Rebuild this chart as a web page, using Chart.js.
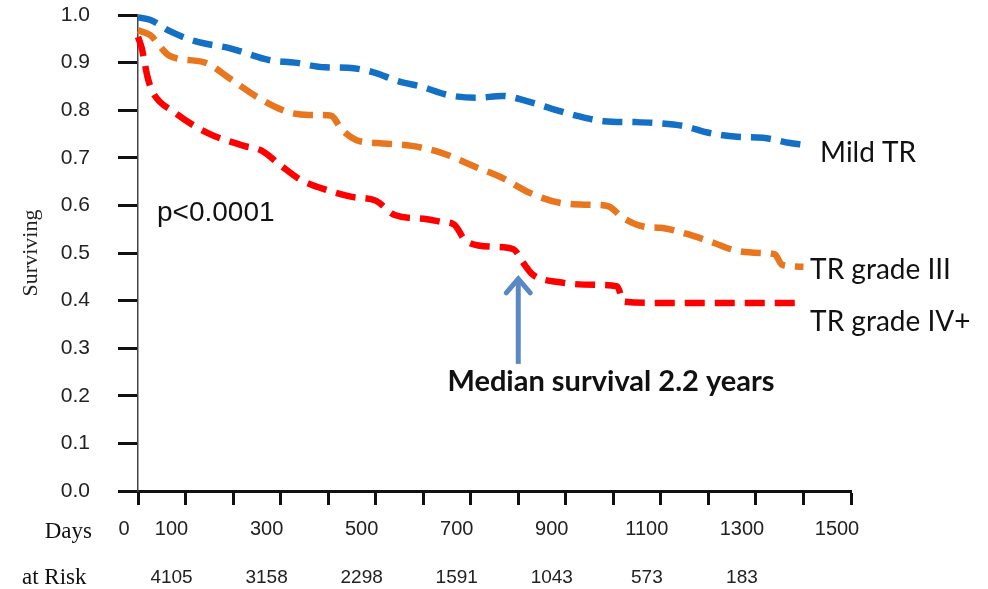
<!DOCTYPE html>
<html>
<head>
<meta charset="utf-8">
<script src="https://cdn.jsdelivr.net/npm/chart.js@4.4.0/dist/chart.umd.min.js"></script>
<style>
  html, body { margin: 0; padding: 0; background: #ffffff; }
  #wrap { width: 988px; height: 589px; }
</style>
</head>
<body>
<div id="wrap"><canvas id="c" width="988" height="589"></canvas></div>
<script>
// ---- Data ----
const mildDays = [0, 25, 67, 120, 194, 278, 330, 393, 442, 494, 547, 598, 652, 713, 766, 818, 871, 924, 980, 1046, 1092, 1147, 1203, 1260, 1315, 1372, 1395];
const mildSurv = [0.995, 0.99, 0.966, 0.945, 0.93, 0.905, 0.90, 0.89, 0.889, 0.88, 0.861, 0.849, 0.832, 0.826, 0.83, 0.819, 0.803, 0.788, 0.777, 0.775, 0.773, 0.767, 0.752, 0.744, 0.742, 0.731, 0.728];

const grade3Days = [0, 25, 67, 141, 194, 250, 316, 360, 405, 430, 460, 503, 576, 640, 705, 766, 825, 890, 961, 990, 1020, 1067, 1100, 1155, 1212, 1254, 1313, 1340, 1355, 1400];
const grade3Surv = [0.968, 0.958, 0.914, 0.90, 0.866, 0.828, 0.796, 0.79, 0.789, 0.758, 0.737, 0.731, 0.725, 0.71, 0.683, 0.658, 0.626, 0.605, 0.601, 0.598, 0.574, 0.555, 0.553, 0.54, 0.521, 0.506, 0.5, 0.497, 0.475, 0.471];

const grade4Days = [0, 8, 20, 30, 76, 147, 223, 260, 299, 340, 383, 450, 500, 540, 608, 640, 665, 690, 749, 790, 810, 830, 884, 968, 1008, 1022, 1100, 1400];
const grade4Surv = [0.954, 0.93, 0.87, 0.84, 0.796, 0.752, 0.725, 0.715, 0.685, 0.655, 0.637, 0.618, 0.61, 0.58, 0.571, 0.565, 0.56, 0.525, 0.513, 0.508, 0.48, 0.455, 0.439, 0.433, 0.43, 0.398, 0.395, 0.395];

const seriesNames = ['Mild TR', 'TR grade III', 'TR grade IV+'];
const xTickLabels = [0, 100, 300, 500, 700, 900, 1100, 1300, 1500];
const atRiskDays = [100, 300, 500, 700, 900, 1100, 1300];
const atRiskCounts = [4105, 3158, 2298, 1591, 1043, 573, 183];
const pValueText = 'p<0.0001';
const medianText = 'Median survival 2.2 years';
const medianDay = 800;

function pts(xs, ys) { return xs.map((x, i) => ({ x: x, y: ys[i] })); }

const colors = ['#1470c4', '#e8761f', '#ff0000'];

const annotate = {
  id: 'annotate',
  afterDraw(chart) {
    const ctx = chart.ctx;
    const xs = chart.scales.x, ys = chart.scales.y;
    ctx.save();
    ctx.fillStyle = '#111';
    ctx.font = '28px Lato, "Open Sans", sans-serif';
    ctx.textBaseline = 'middle';
    ctx.textAlign = 'left';
    ctx.fillText(seriesNames[0], xs.getPixelForValue(1435), ys.getPixelForValue(0.71));
    ctx.fillText(seriesNames[1], xs.getPixelForValue(1414), ys.getPixelForValue(0.464));
    ctx.fillText(seriesNames[2], xs.getPixelForValue(1414), ys.getPixelForValue(0.355));
    ctx.font = '28px "Liberation Sans", Arial, sans-serif';
    ctx.fillText(pValueText, xs.getPixelForValue(40), ys.getPixelForValue(0.584));
    const ax = xs.getPixelForValue(medianDay);
    const tipY = ys.getPixelForValue(0.45);
    const baseY = ys.getPixelForValue(0.267);
    ctx.strokeStyle = '#5a88c6';
    ctx.lineWidth = 5;
    ctx.lineCap = 'butt';
    ctx.beginPath();
    ctx.moveTo(ax, baseY);
    ctx.lineTo(ax, tipY + 3);
    ctx.stroke();
    ctx.lineCap = 'round';
    ctx.beginPath();
    ctx.moveTo(ax - 12, tipY + 16);
    ctx.lineTo(ax, tipY + 2);
    ctx.lineTo(ax + 12, tipY + 16);
    ctx.stroke();
    ctx.fillStyle = '#111';
    ctx.font = 'bold 29px Lato, "Open Sans", sans-serif';
    ctx.textAlign = 'center';
    ctx.fillText(medianText, xs.getPixelForValue(995), ys.getPixelForValue(0.229));
    ctx.font = '23px "Liberation Serif", "Times New Roman", serif';
    ctx.textAlign = 'right';
    ctx.fillText('Days', 92, 532);
    ctx.textAlign = 'left';
    ctx.fillText('at Risk', 22, 578);
    ctx.font = '19px "Liberation Sans", Arial, sans-serif';
    ctx.textAlign = 'center';
    ctx.fillStyle = '#222';
    atRiskDays.forEach((d, i) => {
      ctx.fillText(String(atRiskCounts[i]), xs.getPixelForValue(d) - 14, 578);
    });
    ctx.restore();
  }
};

const ds = (label, xs, yv, color) => ({
  label: label,
  data: pts(xs, yv),
  borderColor: color,
  backgroundColor: color,
  borderWidth: 6.5,
  borderDash: [20, 10],
  borderCapStyle: 'butt',
  pointRadius: 0,
  fill: false,
  cubicInterpolationMode: 'monotone',
  clip: false
});

new Chart(document.getElementById('c'), {
  type: 'line',
  data: {
    datasets: [
      ds(seriesNames[0], mildDays, mildSurv, colors[0]),
      ds(seriesNames[1], grade3Days, grade3Surv, colors[1]),
      ds(seriesNames[2], grade4Days, grade4Surv, colors[2])
    ]
  },
  options: {
    responsive: false,
    devicePixelRatio: 1,
    animation: false,
    layout: { padding: { left: 0, right: 137, top: 15, bottom: 0 } },
    plugins: { legend: { display: false }, tooltip: { enabled: false } },
    scales: {
      x: {
        type: 'linear',
        min: 0, max: 1500,
        afterFit(s) { s.height = 98; },
        border: { display: true, color: '#111', width: 3 },
        grid: { drawOnChartArea: false, drawTicks: true, tickLength: 14, tickWidth: 3, tickColor: '#111' },
        ticks: {
          stepSize: 100,
          autoSkip: false,
          maxRotation: 0,
          padding: 12,
          labelOffset: -14,
          color: '#222',
          font: { family: '"Liberation Sans", Arial, sans-serif', size: 20 },
          callback: (v) => xTickLabels.includes(v) ? String(v) : ''
        }
      },
      y: {
        type: 'linear',
        min: 0, max: 1,
        afterFit(s) { s.width = 138; s.paddingTop = 0; s.paddingBottom = 0; },
        border: { display: true, color: '#444', width: 1.5 },
        grid: { drawOnChartArea: false, drawTicks: true, tickLength: 20, tickWidth: 3, tickColor: '#111' },
        ticks: {
          stepSize: 0.1,
          padding: 28,
          color: '#222',
          font: { family: '"Liberation Sans", Arial, sans-serif', size: 21 },
          callback: (v) => Number(v).toFixed(1)
        },
        title: {
          display: true,
          text: 'Surviving',
          color: '#222',
          padding: { top: 18, bottom: 0 },
          font: { family: '"Liberation Serif", "Times New Roman", serif', size: 22 }
        }
      }
    }
  },
  plugins: [annotate]
});
</script>
</body>
</html>
